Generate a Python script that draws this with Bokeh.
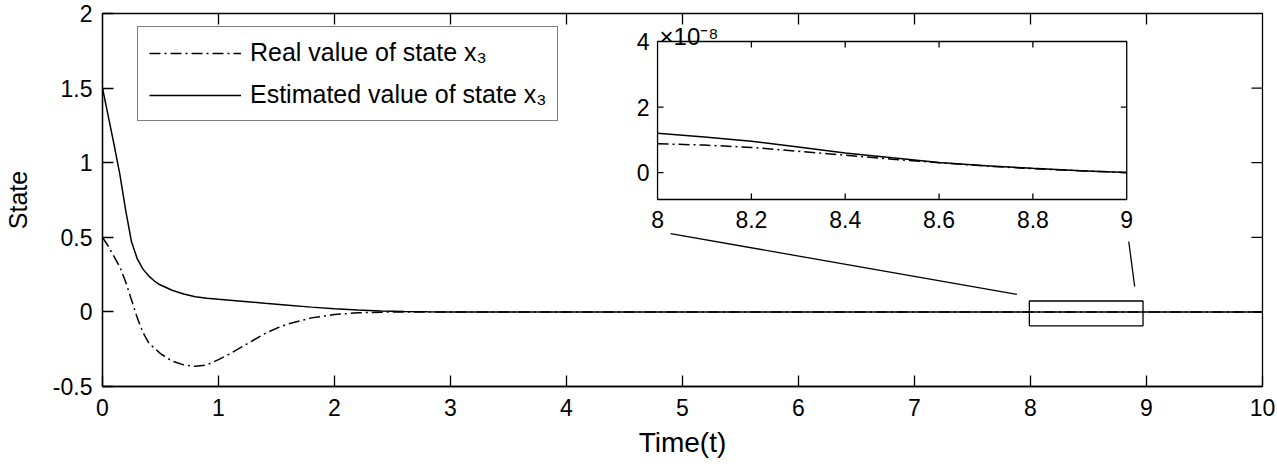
import math
from bokeh.plotting import figure
from bokeh.models import Range1d, FixedTicker, Legend, LegendItem
from bokeh.core.properties import value
from bokeh.embed import file_html
from bokeh.resources import INLINE

FONT = "Liberation Sans"

# ---------------- data ----------------
t_est = [0, 0.05, 0.1, 0.15, 0.2, 0.25, 0.3, 0.35, 0.4, 0.45, 0.5, 0.6, 0.7, 0.8, 0.9, 1.0,
         1.2, 1.4, 1.6, 1.8, 2.0, 2.2, 2.4, 2.6, 2.8, 3, 4, 5, 6, 7, 8, 9, 10]
est = [1.5, 1.31, 1.12, 0.92, 0.68, 0.47, 0.355, 0.285, 0.24, 0.205, 0.18, 0.145, 0.12,
       0.102, 0.091, 0.084, 0.072, 0.058, 0.045, 0.032, 0.021, 0.012, 0.006, 0.003, 0.001,
       0, 0, 0, 0, 0, 0, 0, 0]

t_real = [0, 0.05, 0.1, 0.15, 0.2, 0.25, 0.3, 0.35, 0.4, 0.5, 0.6, 0.7, 0.8, 0.9, 1.0,
          1.1, 1.2, 1.3, 1.4, 1.5, 1.6, 1.8, 2.0, 2.2, 2.4, 2.6, 2.8, 3, 4, 5, 6, 7, 8, 9, 10]
real = [0.5, 0.44, 0.37, 0.30, 0.20, 0.08, -0.04, -0.14, -0.21, -0.28, -0.33, -0.355,
        -0.365, -0.355, -0.32, -0.28, -0.235, -0.19, -0.145, -0.11, -0.08, -0.04, -0.018,
        -0.006, -0.002, 0, 0, 0, 0, 0, 0, 0, 0, 0, 0]

# inset (values in units of 1e-8)
t_inset = [8.0, 8.1, 8.2, 8.3, 8.4, 8.5, 8.6, 8.7, 8.8, 8.9, 9.0]
est_inset = [1.2, 1.09, 0.96, 0.78, 0.60, 0.45, 0.31, 0.21, 0.13, 0.06, 0.0]
real_inset = [0.88, 0.84, 0.77, 0.65, 0.53, 0.41, 0.30, 0.20, 0.12, 0.06, 0.0]

x_ticks = [0, 1, 2, 3, 4, 5, 6, 7, 8, 9, 10]
x_tick_labels = ["0", "1", "2", "3", "4", "5", "6", "7", "8", "9", "10"]
y_ticks = [-0.5, 0, 0.5, 1, 1.5, 2]
y_tick_labels = ["-0.5", "0", "0.5", "1", "1.5", "2"]

inset_x_ticks = [8, 8.2, 8.4, 8.6, 8.8, 9]
inset_x_labels = ["8", "8.2", "8.4", "8.6", "8.8", "9"]
inset_y_ticks = [0, 2, 4]
inset_y_labels = ["0", "2", "4"]
inset_x_lim = [8.0, 9.0]
inset_y_lim = [-0.82, 4.0]
inset_exponent = "\u00d710\u207b\u2078"

zoom_box_x = [7.99, 8.97]
zoom_box_y = [-0.093, 0.073]

labels = ["Real value of state x\u2083", "Estimated value of state x\u2083"]

# connector lines (main data coordinates)
conn_x0 = [4.897, 8.847]
conn_y0 = [0.525, 0.472]
conn_x1 = [7.883, 8.898]
conn_y1 = [0.117, 0.170]

# ---------------- layout constants (px) ----------------
W, H = 1275, 466
FL, FR, FT, FB = 100, 1262, 13, 386     # main frame
IL, IR, IT, IB = 656, 1126, 41, 199     # inset frame

p = figure(width=W, height=H, x_range=Range1d(0, 10), y_range=Range1d(-0.5, 2),
           output_backend="svg", toolbar_location=None,
           min_border_left=FL, min_border_right=W - FR,
           min_border_top=FT, min_border_bottom=H - FB)
p.xgrid.visible = False
p.ygrid.visible = False
p.outline_line_color = "black"
p.outline_line_width = 1.3
p.background_fill_color = "white"
p.border_fill_color = "white"

def style_axis(ax, ticks, overrides):
    ax.ticker = FixedTicker(ticks=ticks)
    ax.major_label_overrides = overrides
    ax.axis_line_color = "black"
    ax.axis_line_width = 1.3
    ax.major_tick_line_color = "black"
    ax.major_tick_line_width = 1.3
    ax.major_tick_in = 11
    ax.major_tick_out = 0
    ax.minor_tick_line_color = None
    ax.major_label_text_font = FONT
    ax.major_label_text_font_size = "23px"
    ax.major_label_text_color = "black"
    ax.axis_label_text_font = FONT
    ax.axis_label_text_font_style = "normal"
    ax.axis_label_text_color = "black"

style_axis(p.xaxis[0], x_ticks, {t: s for t, s in zip(x_ticks, x_tick_labels)})
style_axis(p.yaxis[0], y_ticks, {t: s for t, s in zip(y_ticks, y_tick_labels)})
p.xaxis[0].axis_label = "Time(t)"
p.yaxis[0].axis_label = "State"
p.xaxis[0].axis_label_text_font_size = "28px"
p.yaxis[0].axis_label_text_font_size = "25px"
p.xaxis[0].major_label_standoff = 12
p.xaxis[0].axis_label_standoff = 8
p.yaxis[0].major_label_standoff = 10
p.yaxis[0].axis_label_standoff = 18

# ticks on the top and right edges of the box
top_x = x_ticks[1:-1]
p.ray(x=top_x, y=[y_ticks[-1]] * len(top_x), length=11, angle=-math.pi / 2,
      length_units="screen", line_color="black", line_width=1.3)
right_y = y_ticks[1:-1]
p.ray(x=[x_ticks[-1]] * len(right_y), y=right_y, length=11, angle=math.pi,
      length_units="screen", line_color="black", line_width=1.3)

# main curves
r_real = p.line(t_real, real, line_color="black", line_width=1.5, line_dash="11 4 2 4")
r_est = p.line(t_est, est, line_color="black", line_width=1.5)

# zoom box and connectors
p.quad(left=[zoom_box_x[0]], right=[zoom_box_x[1]], bottom=[zoom_box_y[0]], top=[zoom_box_y[1]],
       fill_color=None, line_color="black", line_width=1.3)
p.segment(x0=conn_x0, y0=conn_y0, x1=conn_x1, y1=conn_y1, line_color="black", line_width=1.3)

# ---------------- inset via extra ranges ----------------
sx = (IR - IL) / (inset_x_lim[1] - inset_x_lim[0])
sy = (IB - IT) / (inset_y_lim[1] - inset_y_lim[0])
p.extra_x_ranges = {"ix": Range1d(inset_x_lim[0] - (IL - FL) / sx, inset_x_lim[1] + (FR - IR) / sx)}
p.extra_y_ranges = {"iy": Range1d(inset_y_lim[0] - (FB - IB) / sy, inset_y_lim[1] + (IT - FT) / sy)}
kw = dict(x_range_name="ix", y_range_name="iy")

p.quad(left=[inset_x_lim[0]], right=[inset_x_lim[1]], bottom=[inset_y_lim[0]], top=[inset_y_lim[1]],
       fill_color="white", line_color="black", line_width=1.3, **kw)
p.line(t_inset, real_inset, line_color="black", line_width=1.5, line_dash="11 4 2 4", **kw)
p.line(t_inset, est_inset, line_color="black", line_width=1.5, **kw)

inner_x = inset_x_ticks[1:-1]
p.ray(x=inner_x, y=[inset_y_lim[0]] * len(inner_x), length=6, angle=math.pi / 2,
      length_units="screen", line_color="black", line_width=1.3, **kw)
p.ray(x=inner_x, y=[inset_y_lim[1]] * len(inner_x), length=6, angle=-math.pi / 2,
      length_units="screen", line_color="black", line_width=1.3, **kw)
inner_y = inset_y_ticks[:-1]
p.ray(x=[inset_x_lim[0]] * len(inner_y), y=inner_y, length=6, angle=0,
      length_units="screen", line_color="black", line_width=1.3, **kw)
p.ray(x=[inset_x_lim[1]] * len(inner_y), y=inner_y, length=6, angle=math.pi,
      length_units="screen", line_color="black", line_width=1.3, **kw)

p.text(x=inset_x_ticks, y=[inset_y_lim[0]] * len(inset_x_ticks), text=inset_x_labels,
       text_align="center", text_baseline="middle", y_offset=20,
       text_font=value(FONT), text_font_size="23px", text_color="black", **kw)
p.text(x=[inset_x_lim[0]] * len(inset_y_ticks), y=inset_y_ticks, text=inset_y_labels,
       text_align="right", text_baseline="middle", x_offset=-8,
       text_font=value(FONT), text_font_size="23px", text_color="black", **kw)
p.text(x=[inset_x_lim[0]], y=[inset_y_lim[1]], text=[inset_exponent],
       text_align="left", text_baseline="alphabetic", x_offset=2, y_offset=-5,
       text_font=value(FONT), text_font_size="24px", text_color="black", **kw)

# ---------------- legend ----------------
legend = Legend(items=[LegendItem(label=labels[0], renderers=[r_real]),
                       LegendItem(label=labels[1], renderers=[r_est])],
                location=(35, 265), orientation="vertical",
                label_text_font=FONT, label_text_font_size="25px", label_text_color="black",
                glyph_width=92, glyph_height=24, spacing=13, padding=11, margin=0,
                label_standoff=9, border_line_color="black", border_line_width=1.3,
                background_fill_color="white", background_fill_alpha=1.0)
p.add_layout(legend)

open("out.html", "w").write(file_html(p, INLINE))
